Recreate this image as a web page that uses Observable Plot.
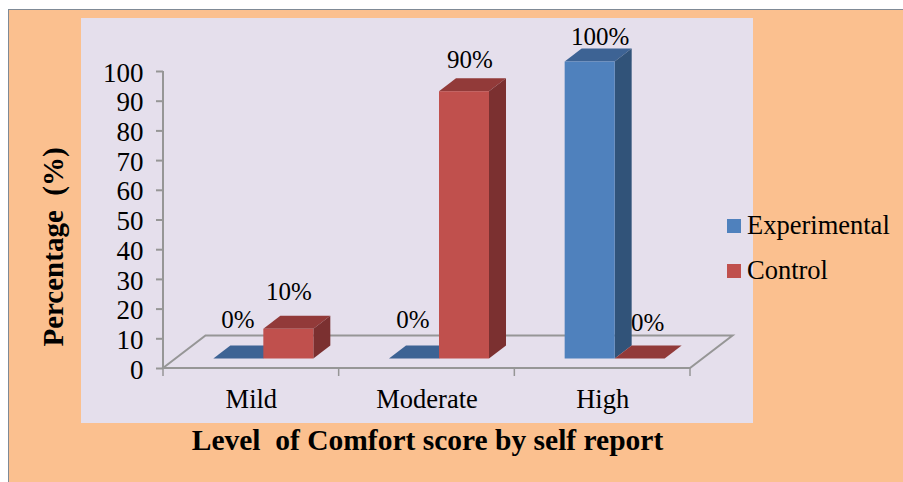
<!DOCTYPE html>
<html><head><meta charset="utf-8">
<script src="https://cdn.jsdelivr.net/npm/d3@7"></script>
<script src="https://cdn.jsdelivr.net/npm/@observablehq/plot@0.6"></script>
<style>
html,body{margin:0;padding:0;background:#fff;width:903px;height:482px;overflow:hidden}
#sheet{position:absolute;left:8px;top:9px;right:0;bottom:0;background:#FBC08F;border-left:1.5px solid #7f8a96;border-top:1.5px solid #7f8a96;box-sizing:border-box}
#panel{position:absolute;left:81px;top:18px;width:672px;height:405px;background:#E5DFEC}
#chart{position:absolute;left:0;top:0}
#chart svg text{white-space:pre}
.leg{position:absolute;font:26.5px "Liberation Serif",serif;color:#000;left:747px;line-height:30px;white-space:pre}
.sw{position:absolute;left:727px;width:14px;height:14px}
</style></head><body>
<div id="sheet"></div><div id="panel"></div><div id="chart"></div>
<div class="sw" style="top:219px;background:#4F81BD"></div><div class="leg" style="top:210px">Experimental</div>
<div class="sw" style="top:264px;background:#C0504D"></div><div class="leg" style="top:255px">Control</div>
<script>
const categories = ["Mild", "Moderate", "High"];
const experimental = [0, 0, 100];
const control = [10, 90, 0];
const yTicks = [0,10,20,30,40,50,60,70,80,90,100];
const xTitle = "Level  of Comfort score by self report";
const yTitle = "Percentage  (%)";

const rows = categories.flatMap((c,i)=>[
  {category:c, series:"Experimental", value:experimental[i], side:0},
  {category:c, series:"Control", value:control[i], side:1}
]);
const colors = {
  Experimental:{front:"#4F81BD", top:"#3D6394", right:"#315379"},
  Control:{front:"#C0504D", top:"#923A39", right:"#7B3030"}
};
const BAR=50, OX=12.5, OY=-9.5, DX=17, DY=-13, FX=42.5, FY=-32.5;
const labelOffset = [[-1,-31],[0,-29],[-1.5,-31],[5.5,-24],[10,-17],[7.5,-28]];
const NS="http://www.w3.org/2000/svg";
const poly=(g,pts,fill,stroke,sw)=>{const p=document.createElementNS(NS,"polygon");
  p.setAttribute("points",pts.map(d=>d.join(",")).join(" "));p.setAttribute("fill",fill);
  if(stroke){p.setAttribute("stroke",stroke);p.setAttribute("stroke-width",sw);p.setAttribute("stroke-linejoin","miter")}
  g.appendChild(p)};

const frame3d=(i,s)=>{
  const g=document.createElementNS(NS,"g");
  const x0=s.x(categories[0]), bw=s.x.bandwidth(), x1=x0+bw*categories.length, y0=s.y(0), y1=s.y(100), col="#969696";
  poly(g,[[x0,y0],[x0+FX,y0+FY],[x1+FX,y0+FY],[x1,y0]],"none",col,2);
  poly(g,[[x0,y1],[x0,y0]],"none",col,2);
  categories.concat("").forEach((c,k)=>{const x=x0+bw*k;poly(g,[[x,y0],[x,y0+8]],"none",col,1.5)});
  return g;
};
const sides=(sel)=>(i,s)=>{
  const g=document.createElementNS(NS,"g");
  const bw=s.x.bandwidth();
  rows.filter(sel).forEach(r=>{
    const c=s.x(r.category)+bw/2+OX;
    const l=c-BAR+r.side*BAR, rr=l+BAR, b=s.y(0)+OY, t=s.y(r.value)+OY, col=colors[r.series];
    poly(g,[[l,t],[l+DX,t+DY],[rr+DX,t+DY],[rr,t]],col.top);
    if(r.value>0) poly(g,[[rr,b],[rr+DX,b+DY],[rr+DX,t+DY],[rr,t]],col.right);
  });
  return g;
};
const bars=(sel,side)=>Plot.barY(rows.filter(sel),{x:"category",y:"value",fill:d=>colors[d.series].front,
  insetLeft:(527/3)/2-BAR+side*BAR, insetRight:(527/3)/2-side*BAR, dx:OX, dy:OY});

const chart=Plot.plot({
  width:903,height:482,marginLeft:163,marginRight:213,marginTop:71,marginBottom:114,
  style:{background:"transparent",fontFamily:"'Liberation Serif',serif",color:"#000",overflow:"visible"},
  x:{type:"band",domain:categories,padding:0,align:0,round:false,label:null},
  y:{domain:[0,100],label:null},
  marks:[
    frame3d,
    Plot.axisY({ticks:yTicks,tickSize:7,stroke:"#969696",strokeWidth:2,tickFormat:()=>"",label:null}),
    Plot.axisY({ticks:yTicks,tickSize:0,fontSize:27,tickPadding:20,dy:1.5,label:null,fill:"#000",textStroke:"none"}),
    Plot.axisX({tickSize:0,fontSize:26.5,tickPadding:21,fill:"#000",label:null}),
    ...categories.flatMap((c,k)=>[
      sides(r=>r.category===c&&r.side===0),
      bars(r=>r.category===c&&r.side===0,0),
      sides(r=>r.category===c&&r.side===1),
      bars(r=>r.category===c&&r.side===1,1)
    ]),
    ...rows.map((r,k)=>Plot.text([r],{x:"category",y:"value",text:d=>d.value+"%",fontSize:25,fill:"#000",
      lineAnchor:"bottom",dx:OX-BAR/2+r.side*BAR+labelOffset[k][0],dy:OY+labelOffset[k][1]})),
    Plot.text([xTitle],{frameAnchor:"bottom",dx:0.5,dy:81,fontSize:29.5,fontWeight:"bold",fill:"#000",lineAnchor:"bottom"}),
    Plot.text([yTitle],{frameAnchor:"left",textAnchor:"middle",dx:-110,dy:27,rotate:-90,fontSize:29,fontWeight:"bold",fill:"#000"})
  ]
});
document.getElementById("chart").appendChild(chart);
</script></body></html>
